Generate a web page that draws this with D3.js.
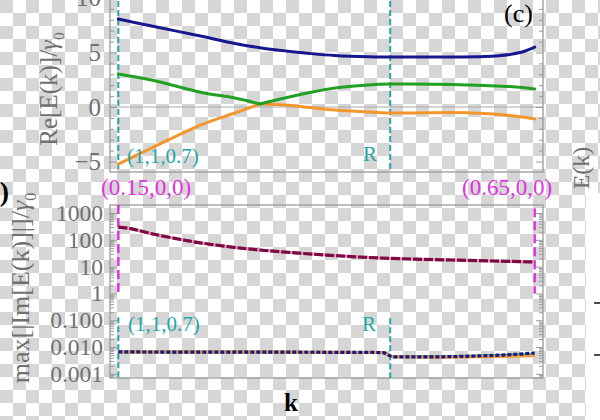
<!DOCTYPE html>
<html><head><meta charset="utf-8">
<script src="https://cdn.jsdelivr.net/npm/d3@7"></script>
<style>body{margin:0;background:#fff}svg{display:block}text{font-family:"Liberation Serif","DejaVu Serif",serif}</style>
</head><body><svg id="c" width="600" height="420"></svg>
<script>
// ---- data ----
const kTop = [0, 0.08, 0.2, 0.28, 0.34, 0.4, 0.46, 0.52, 0.6, 0.653, 0.7, 0.8, 0.88, 0.94, 0.97, 1.0];
const reBlue   = [8.07, 7.43, 6.49, 5.83, 5.44, 5.15, 4.91, 4.72, 4.60, 4.58, 4.58, 4.59, 4.63, 4.82, 5.05, 5.50];
const reGreen  = [3.03, 2.48, 1.33, 0.83, 0.28, 0.83, 1.33, 1.74, 2.02, 2.11, 2.11, 2.06, 1.97, 1.88, 1.79, 1.65];
const reOrange = [-5.23, -3.76, -1.61, -0.55, 0.28, 0.18, -0.05, -0.28, -0.46, -0.55, -0.55, -0.50, -0.60, -0.78, -0.92, -1.10];
const crossIdx = 4; // index where green and orange touch

const kMax = [0, 0.03, 0.08, 0.15, 0.2, 0.3, 0.4, 0.5, 0.6, 0.7, 0.8, 0.9, 1.0];
const imMaroon = [300, 262, 170, 103, 76, 48, 35, 27, 22, 19.3, 17.7, 16.3, 14.9];

const kLow = [0, 0.15, 0.3, 0.45, 0.6, 0.635, 0.66, 0.75, 0.85, 0.95, 1.0];
const imBlue   = [0.0066, 0.0065, 0.0065, 0.0064, 0.0063, 0.0062, 0.0043, 0.0043, 0.0046, 0.0053, 0.0060];
const imGreen  = [0.0066, 0.0065, 0.0065, 0.0064, 0.0063, 0.0062, 0.0043, 0.0043, 0.0045, 0.0050, 0.0052];
const imOrange = [0.0066, 0.0065, 0.0065, 0.0064, 0.0063, 0.0062, 0.0043, 0.0042, 0.0043, 0.0045, 0.0047];

const kR = 0.653;
const topTicks = [-5, 0, 5, 10];
const botTicks = [1000, 100, 10, 1, 0.1, 0.01, 0.001];
const botTickLabels = ["1000", "100", "10", "1", "0.100", "0.010", "0.001"];

// ---- drawing ----
const svg = d3.select("#c");
const defs = svg.append("defs");
const S = 13;
const pat = defs.append("pattern").attr("id", "cb").attr("patternUnits", "userSpaceOnUse")
  .attr("width", 2 * S).attr("height", 2 * S).attr("x", 0).attr("y", 0);
pat.append("rect").attr("width", 2 * S).attr("height", 2 * S).attr("fill", "#fff");
pat.append("rect").attr("width", S).attr("height", S).attr("fill", "#d6d6d6");
pat.append("rect").attr("x", S).attr("y", S).attr("width", S).attr("height", S).attr("fill", "#d6d6d6");
svg.append("rect").attr("width", 600).attr("height", 420).attr("fill", "url(#cb)");
svg.append("rect").attr("x", 586).attr("y", 193).attr("width", 14).attr("height", 227).attr("fill", "#fff");

const x = d3.scaleLinear().domain([-0.02, 1.02]).range([110, 543]);
const yT = d3.scaleLinear().domain([-5.96, 10.55]).range([172, -8]);
const yB = d3.scaleLog().domain([0.0007, 2000]).range([378, 205]);

const frameCol = "#9a9a9a", labCol = "#707070";
const teal = "#26a6a8", magenta = "#e032e0";

function styleAxis(size) {
  return g => {
    g.select(".domain").remove();
    g.selectAll(".tick line").attr("stroke", frameCol).attr("stroke-width", 1);
    g.selectAll(".tick text").attr("fill", labCol).attr("font-size", size)
      .attr("font-family", '"Liberation Serif", serif');
  };
}

// top panel axes
svg.append("line").attr("x1", 110).attr("x2", 543).attr("y1", yT(0)).attr("y2", yT(0))
  .attr("stroke", "#aaa").attr("stroke-width", 1);
const minorT = d3.range(-5, 11).filter(d => d % 5 !== 0);
svg.append("g").attr("transform", "translate(110,0)")
  .call(d3.axisLeft(yT).tickValues(topTicks).tickSize(-7).tickPadding(9)
    .tickFormat(d => d < 0 ? "\u2212" + Math.abs(d) : String(d))).call(styleAxis(25));
svg.append("g").attr("transform", "translate(110,0)")
  .call(d3.axisLeft(yT).tickValues(minorT).tickSize(-4).tickFormat("")).call(styleAxis(25));
svg.append("g").attr("transform", "translate(543,0)")
  .call(d3.axisRight(yT).tickValues(topTicks).tickSize(-7).tickFormat("")).call(styleAxis(25));
svg.append("g").attr("transform", "translate(543,0)")
  .call(d3.axisRight(yT).tickValues(minorT).tickSize(-4).tickFormat("")).call(styleAxis(25));
svg.append("rect").attr("x", 110).attr("y", -8).attr("width", 433).attr("height", 180)
  .attr("fill", "none").attr("stroke", frameCol).attr("stroke-width", 1.3);

// bottom panel axes
const minorB = [];
for (let e = -4; e <= 3; e++) for (let m = 2; m <= 9; m++) {
  const v = m * Math.pow(10, e);
  if (v > 0.0007 && v < 2000) minorB.push(v);
}
svg.append("g").attr("transform", "translate(110,0)")
  .call(d3.axisLeft(yB).tickValues(botTicks).tickSize(-7).tickPadding(7)
    .tickFormat((d, i) => botTickLabels[i])).call(styleAxis(23.5));
svg.append("g").attr("transform", "translate(110,0)")
  .call(d3.axisLeft(yB).tickValues(minorB).tickSize(-4).tickFormat("")).call(styleAxis(23.5));
svg.append("g").attr("transform", "translate(543,0)")
  .call(d3.axisRight(yB).tickValues(botTicks).tickSize(-7).tickFormat("")).call(styleAxis(23.5));
svg.append("g").attr("transform", "translate(543,0)")
  .call(d3.axisRight(yB).tickValues(minorB).tickSize(-4).tickFormat("")).call(styleAxis(23.5));
svg.append("rect").attr("x", 110).attr("y", 205).attr("width", 433).attr("height", 173)
  .attr("fill", "none").attr("stroke", frameCol).attr("stroke-width", 1.3);

// vertical markers
function vline(xv, y1, y2, col, dash, w) {
  svg.append("line").attr("x1", x(xv)).attr("x2", x(xv)).attr("y1", y1).attr("y2", y2)
    .attr("stroke", col).attr("stroke-width", w).attr("stroke-dasharray", dash);
}
vline(0, yT(10.55), yT(-5.96), teal, "6,3", 2);
vline(kR, yT(10.55), yT(-5.96), teal, "6,3", 2);
vline(0, yB(2000), yB(1), magenta, "9,4", 2.5);
vline(1, yB(1500), yB(1), magenta, "9,4", 2.5);
vline(0, yB(0.13), yB(0.0007), teal, "6,3", 2);
vline(kR, yB(0.12), yB(0.0007), teal, "6,3", 2);

// top curves
const lineSeg = (ks) => d3.line().x((d, i) => x(ks[i])).y(d => yT(d)).curve(d3.curveCatmullRom.alpha(0.5));
function drawSplit(arr, col) {
  const a = arr.slice(0, crossIdx + 1), ka = kTop.slice(0, crossIdx + 1);
  const b = arr.slice(crossIdx), kb = kTop.slice(crossIdx);
  [[a, ka], [b, kb]].forEach(([vals, ks]) => svg.append("path").attr("d", lineSeg(ks)(vals))
    .attr("fill", "none").attr("stroke", col).attr("stroke-width", 3).attr("stroke-linecap", "round"));
}
drawSplit(reOrange, "#f5962d");
drawSplit(reGreen, "#22a022");
svg.append("path").attr("d", lineSeg(kTop)(reBlue)).attr("fill", "none").attr("stroke", "#16168e")
  .attr("stroke-width", 3).attr("stroke-linecap", "round");

// bottom curves
const lineM = d3.line().x((d, i) => x(kMax[i])).y(d => yB(d)).curve(d3.curveCatmullRom.alpha(0.5));
svg.append("path").attr("d", lineM(imMaroon)).attr("fill", "none").attr("stroke", "#d89ab8")
  .attr("stroke-width", 3);
svg.append("path").attr("d", lineM(imMaroon)).attr("fill", "none").attr("stroke", "#7d0a45")
  .attr("stroke-width", 3.2).attr("stroke-dasharray", "9,2");
const lineL = d3.line().x((d, i) => x(kLow[i])).y(d => yB(d)).curve(d3.curveMonotoneX);
svg.append("path").attr("d", lineL(imGreen)).attr("fill", "none").attr("stroke", "#22a022").attr("stroke-width", 3);
svg.append("path").attr("d", lineL(imOrange)).attr("fill", "none").attr("stroke", "#f5a040").attr("stroke-width", 3);
svg.append("path").attr("d", lineL(imBlue)).attr("fill", "none").attr("stroke", "#16168e")
  .attr("stroke-width", 3.2).attr("stroke-dasharray", "4,2");

// texts
function txt(t, xx, yy, opts) {
  const e = svg.append("text").attr("x", xx).attr("y", yy).text(t)
    .attr("font-size", opts.size || 22).attr("fill", opts.fill || "#000")
    .attr("text-anchor", opts.anchor || "start");
  if (opts.weight) e.attr("font-weight", opts.weight);
  return e;
}
txt("(1,1,0.7)", 127, 163, {fill: teal, size: 21});
txt("R", 363, 161, {fill: teal, size: 21});
txt("(1,1,0.7)", 128, 331, {fill: teal, size: 21});
txt("R", 362, 331, {fill: teal, size: 21});
txt("(0.15,0,0)", 101, 195, {fill: magenta, size: 23});
txt("(0.65,0,0)", 462, 195, {fill: magenta, size: 23});
txt("(c)", 504, 22, {size: 26});
txt("k", 291, 411, {size: 25, weight: "bold", anchor: "middle"});
txt(")", 9, 201, {size: 28, weight: "bold", anchor: "end"});

// rotated axis labels
function rotLabel(main, xx, yy, size, col) {
  const t = svg.append("text").attr("transform", `translate(${xx},${yy}) rotate(-90)`)
    .attr("text-anchor", "middle").attr("font-size", size).attr("fill", col);
  t.append("tspan").text(main);
  t.append("tspan").text("\u03b3").attr("font-style", "italic");
  t.append("tspan").text("0").attr("font-size", size * 0.62).attr("dy", size * 0.28);
  return t;
}
rotLabel("Re[E(k)]/", 57, 89, 25, labCol);
rotLabel("max[|Im[E(k)]|]/", 29, 288, 26, labCol);
svg.append("text").attr("transform", "translate(589,168) rotate(-90)").attr("text-anchor", "middle")
  .attr("font-size", 24).attr("fill", labCol).text("E(k)");

// stray ticks from neighbouring panel
[303, 355].forEach(yy => svg.append("line").attr("x1", 594).attr("x2", 600).attr("y1", yy).attr("y2", yy)
  .attr("stroke", "#111").attr("stroke-width", 1.5));
</script></body></html>
